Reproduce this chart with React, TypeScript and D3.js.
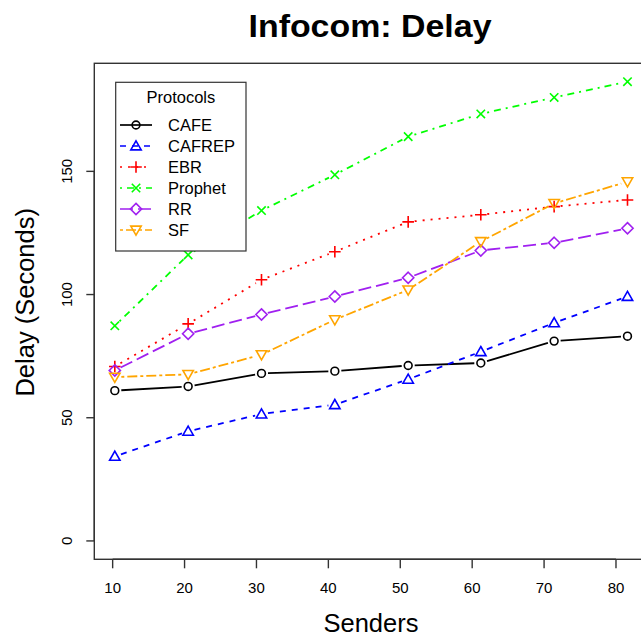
import React from "react";
import * as d3 from "d3";

const senders = [10.3, 20.5, 30.7, 40.9, 51.1, 61.2, 71.4, 81.6];
const xTicks = [10, 20, 30, 40, 50, 60, 70, 80];
const yTicks = [0, 50, 100, 150];
const protocols = ["CAFE", "CAFREP", "EBR", "Prophet", "RR", "SF"];
const cafe = [61.0, 62.7, 68.0, 68.9, 71.2, 72.2, 81.1, 83.1];
const cafrep = [34.3, 44.5, 51.5, 55.3, 65.6, 76.8, 88.5, 99.2];
const ebr = [70.8, 88.1, 106.0, 117.4, 129.5, 132.4, 135.7, 138.4];
const prophet = [87.3, 116.1, 134.1, 148.6, 164.1, 173.3, 180.0, 186.4];
const rr = [69.2, 84.1, 91.9, 99.2, 106.8, 117.9, 121.0, 126.9];
const sf = [66.5, 67.6, 75.6, 89.8, 101.9, 121.5, 137.0, 145.8];

const seriesValues = [cafe, cafrep, ebr, prophet, rr, sf];
const colors = ["#000000", "#0000FF", "#FF0000", "#00FF00", "#A020F0", "#FFA500"];
const dashes = ["none", "6,6", "2,6", "2,5,7,5", "13,5", "3,3,10,3"];
const shapes = ["circle", "triangle", "plus", "cross", "diamond", "down"];

const FONT = "'Liberation Sans', Arial, Helvetica, sans-serif";

function Marker({ shape, x, y, color }: { shape: string; x: number; y: number; color: string }) {
  const sw = 1.6;
  if (shape === "circle") return <circle cx={x} cy={y} r={3.9} fill="none" stroke={color} strokeWidth={sw} />;
  if (shape === "triangle") {
    const s = 5.2;
    return (
      <path
        d={`M${x},${y - s * 1.0}L${x + s},${y + s * 0.75}L${x - s},${y + s * 0.75}Z`}
        fill="none" stroke={color} strokeWidth={sw} strokeLinejoin="miter" />
    );
  }
  if (shape === "down") {
    const s = 5.2;
    return (
      <path
        d={`M${x},${y + s * 1.0}L${x + s},${y - s * 0.75}L${x - s},${y - s * 0.75}Z`}
        fill="none" stroke={color} strokeWidth={sw} />
    );
  }
  if (shape === "plus") {
    const s = 5.8;
    return <path d={`M${x - s},${y}H${x + s}M${x},${y - s}V${y + s}`} stroke={color} strokeWidth={sw} />;
  }
  if (shape === "cross") {
    const s = 4.2;
    return <path d={`M${x - s},${y - s}L${x + s},${y + s}M${x - s},${y + s}L${x + s},${y - s}`} stroke={color} strokeWidth={sw} />;
  }
  const s = 5.6;
  return <path d={`M${x},${y - s}L${x + s},${y}L${x},${y + s}L${x - s},${y}Z`} fill="none" stroke={color} strokeWidth={sw} />;
}

export default function App() {
  const W = 641, H = 638;
  const left = 94.3, right = 648, top = 63.3, bottom = 559.3;

  const xExt = d3.extent(senders) as [number, number];
  const xPad = (xExt[1] - xExt[0]) * 0.04;
  const x = d3.scaleLinear().domain([xExt[0] - xPad, xExt[1] + xPad]).range([left, right]);
  const yMax = d3.max(seriesValues.flat()) as number;
  const yPad = yMax * 0.04;
  const y = d3.scaleLinear().domain([0 - yPad, yMax + yPad]).range([bottom, top]);

  const gap = 6.5;
  const segs = (vals: number[]) => {
    const out: string[] = [];
    for (let i = 0; i < vals.length - 1; i++) {
      const x1 = x(senders[i]), y1 = y(vals[i]);
      const x2 = x(senders[i + 1]), y2 = y(vals[i + 1]);
      const len = Math.hypot(x2 - x1, y2 - y1);
      if (len <= 2 * gap) continue;
      const ux = (x2 - x1) / len, uy = (y2 - y1) / len;
      out.push(`M${x1 + ux * gap},${y1 + uy * gap}L${x2 - ux * gap},${y2 - uy * gap}`);
    }
    return out.join("");
  };

  const legX = 115.7, legY = 82.3, legW = 130.3, legH = 168.7;
  const rowY0 = 125, rowDy = 21;

  return (
    <div style={{ position: "fixed", left: 0, top: 0 }}>
      <svg width={W} height={H} style={{ display: "block", background: "#fff" }} fontFamily={FONT}>
        <rect x={0} y={0} width={W} height={H} fill="#fff" />
        <text x={370} y={37} textAnchor="middle" fontSize={31} fontWeight="bold" fill="#000"
          textLength={243} lengthAdjust="spacingAndGlyphs">
          Infocom: Delay
        </text>
        {/* plot frame */}
        <rect x={left} y={top} width={right - left} height={bottom - top} fill="none" stroke="#333" strokeWidth={1.4} />
        {/* x axis */}
        <path d={`M${x(xTicks[0])},${bottom}H${x(xTicks[xTicks.length - 1])}`} stroke="#333" strokeWidth={1.4} />
        {xTicks.map((t) => (
          <g key={t}>
            <line x1={x(t)} x2={x(t)} y1={bottom} y2={bottom + 9} stroke="#333" strokeWidth={1.4} />
            <text x={x(t)} y={592.5} textAnchor="middle" fontSize={15} fill="#000">{t}</text>
          </g>
        ))}
        {/* y axis */}
        <path d={`M${left},${y(yTicks[0])}V${y(yTicks[yTicks.length - 1])}`} stroke="#333" strokeWidth={1.4} />
        {yTicks.map((t) => (
          <g key={t}>
            <line x1={left - 8} x2={left} y1={y(t)} y2={y(t)} stroke="#333" strokeWidth={1.4} />
            <text transform={`translate(71.5,${y(t)}) rotate(-90)`} textAnchor="middle" fontSize={15} fill="#000">{t}</text>
          </g>
        ))}
        <text x={371} y={632} textAnchor="middle" fontSize={25.5} fill="#000">Senders</text>
        <text transform={`translate(34,${(top + bottom) / 2 - 9}) rotate(-90)`} textAnchor="middle" fontSize={25.5} fill="#000">
          Delay (Seconds)
        </text>
        {/* series */}
        {seriesValues.map((vals, si) => (
          <g key={protocols[si]}>
            <path d={segs(vals)} fill="none" stroke={colors[si]} strokeWidth={1.8} strokeDasharray={dashes[si]} />
            {vals.map((v, i) => (
              <Marker key={i} shape={shapes[si]} x={x(senders[i])} y={y(v)} color={colors[si]} />
            ))}
          </g>
        ))}
        {/* legend */}
        <rect x={legX} y={legY} width={legW} height={legH} fill="#fff" stroke="#333" strokeWidth={1.2} />
        <text x={legX + legW / 2} y={103} textAnchor="middle" fontSize={16.5} fill="#000">Protocols</text>
        {protocols.map((p, i) => {
          const ry = rowY0 + i * rowDy;
          return (
            <g key={p}>
              <line x1={120} x2={152} y1={ry} y2={ry} stroke={colors[i]} strokeWidth={1.7} strokeDasharray={dashes[i]} />
              <Marker shape={shapes[i]} x={136} y={ry} color={colors[i]} />
              <text x={168} y={ry + 6} fontSize={16.5} fill="#000">{p}</text>
            </g>
          );
        })}
      </svg>
    </div>
  );
}
